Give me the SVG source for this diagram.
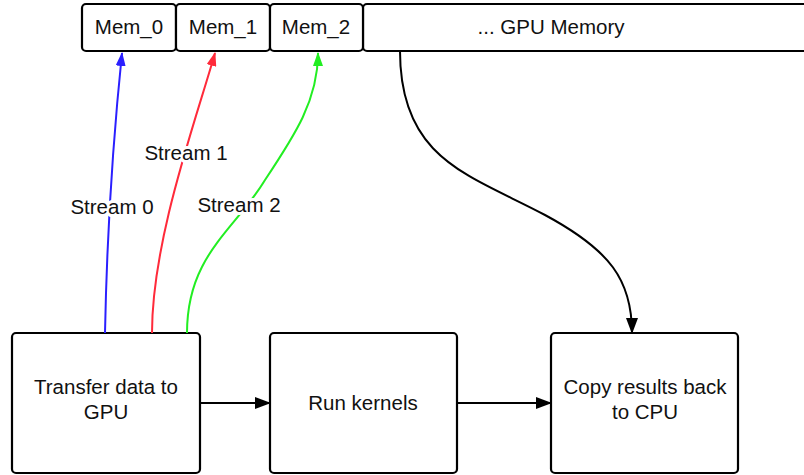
<svg xmlns="http://www.w3.org/2000/svg" width="804" height="475" viewBox="0 0 804 475">
<style>
.box{fill:#fff;stroke:#000;stroke-width:2.2}
.t{font-family:"Liberation Sans",Arial,sans-serif;font-size:20.5px;fill:#111;text-anchor:middle}
.lbl{font-family:"Liberation Sans",Arial,sans-serif;font-size:20.5px;fill:#111;text-anchor:middle;stroke:#fff;stroke-width:6;paint-order:stroke;stroke-linejoin:round}
.c{fill:none;stroke-width:2}
</style>
<defs>
<marker id="ak" viewBox="0 0 16 12" refX="15" refY="6" markerWidth="16" markerHeight="12" markerUnits="userSpaceOnUse" orient="auto"><path d="M0,0L16,6L0,12z" fill="#000"/></marker>
<marker id="ab" viewBox="0 0 14 10" refX="13" refY="5" markerWidth="14" markerHeight="10" markerUnits="userSpaceOnUse" orient="auto"><path d="M0,0L14,5L0,10z" fill="#2a1fff"/></marker>
<marker id="ar" viewBox="0 0 14 10" refX="13" refY="5" markerWidth="14" markerHeight="10" markerUnits="userSpaceOnUse" orient="auto"><path d="M0,0L14,5L0,10z" fill="#ff2a3a"/></marker>
<marker id="ag" viewBox="0 0 14 10" refX="13" refY="5" markerWidth="14" markerHeight="10" markerUnits="userSpaceOnUse" orient="auto"><path d="M0,0L14,5L0,10z" fill="#22ee22"/></marker>
</defs>
<rect width="804" height="475" fill="#fff"/>
<g id="gpu_memory"><rect class="box" x="363" y="4" width="450" height="47" rx="4"/><text class="t" x="551" y="34">... GPU Memory</text></g>
<g id="mem_0"><rect class="box" x="82" y="4" width="94" height="47" rx="4"/><text class="t" x="129" y="34">Mem_0</text></g>
<g id="mem_1"><rect class="box" x="176" y="4" width="94" height="47" rx="4"/><text class="t" x="223" y="34">Mem_1</text></g>
<g id="mem_2"><rect class="box" x="270" y="4" width="93" height="47" rx="4"/><text class="t" x="316" y="34">Mem_2</text></g>
<g id="transfer"><rect class="box" x="12" y="333" width="188" height="140" rx="4"/><text class="t" x="106" y="394">Transfer data to</text><text class="t" x="106" y="419">GPU</text></g>
<g id="run"><rect class="box" x="270" y="333" width="187" height="140" rx="4"/><text class="t" x="363" y="410">Run kernels</text></g>
<g id="copy"><rect class="box" x="551" y="333" width="187" height="140" rx="4"/><text class="t" x="645" y="394">Copy results back</text><text class="t" x="645" y="419">to CPU</text></g>
<g id="connectors">
<path class="c" stroke="#2a1fff" d="M105,333 C107,230 113,140 122,53" marker-end="url(#ab)"/>
<path class="c" stroke="#ff2a3a" d="M152,333 C152,240 196,120 215,53" marker-end="url(#ar)"/>
<path class="c" stroke="#22ee22" d="M187,333 C187,255 235,230 265,180 C295,135 318,100 318,53" marker-end="url(#ag)"/>
<path class="c" stroke="#000" d="M400,51 C400,160 470,175 545,215 C610,250 632,280 632,333" marker-end="url(#ak)"/>
<path class="c" stroke="#000" d="M200,403 L270,403" marker-end="url(#ak)"/>
<path class="c" stroke="#000" d="M457,403 L551,403" marker-end="url(#ak)"/>
<text class="lbl" x="112" y="214">Stream 0</text>
<text class="lbl" x="186" y="160">Stream 1</text>
<text class="lbl" x="239" y="212">Stream 2</text>
</g>
</svg>
